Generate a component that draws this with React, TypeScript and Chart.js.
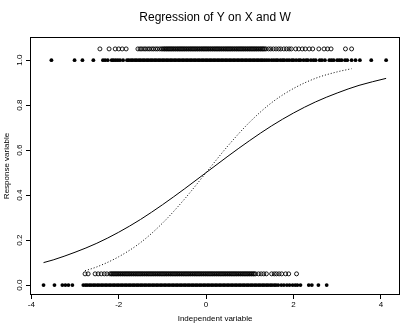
import React, { useEffect, useRef } from "react";
import { Chart, registerables } from "chart.js";

Chart.register(...registerables);

// ---- Data ----
const chartTitle = "Regression of Y on X and W";
const xAxisTitle = "Independent variable";
const yAxisTitle = "Response variable";

const xTicks = [-4, -2, 0, 2, 4];
const yTicks = [0, 0.2, 0.4, 0.6, 0.8, 1.0];

// response levels of the plotted rows
const yResponseOne = 1;
const yResponseZero = 0;
const yShiftedOne = 1.05;
const yShiftedZero = 0.05;

// X values with response 1 (filled dots)
const xSolidTop = [
  -3.54, -3.01, -2.83, -2.58, -2.36, -2.31, -2.25, -2.16, -2.12, -2.07, -2.02, -1.97, -1.9,
  -1.81, -1.77, -1.72, -1.68, -1.63, -1.59, -1.54, -1.5, -1.45, -1.41, -1.36, -1.32, -1.27, -1.23,
  -1.18, -1.14, -1.09, -1.05, -1.0, -0.96, -0.91, -0.87, -0.82, -0.78, -0.73, -0.69, -0.64, -0.6,
  -0.55, -0.51, -0.46, -0.42, -0.37, -0.33, -0.28, -0.24, -0.19, -0.15, -0.1, -0.06, -0.01, 0.03,
  0.08, 0.12, 0.17, 0.21, 0.26, 0.3, 0.35, 0.39, 0.44, 0.48, 0.53, 0.57, 0.62, 0.66, 0.71, 0.75,
  0.8, 0.84, 0.89, 0.93, 0.98, 1.02, 1.07, 1.11, 1.16, 1.2, 1.25, 1.29, 1.34, 1.39, 1.44,
  1.5, 1.55, 1.6, 1.64, 1.7, 1.75, 1.79, 1.85, 1.9, 1.96, 2.0, 2.06, 2.12, 2.16, 2.23, 2.29, 2.33,
  2.4, 2.46, 2.51, 2.6, 2.65, 2.72, 2.82, 2.87, 2.92, 3.0, 3.05, 3.1, 3.18, 3.23, 3.33, 3.42, 3.52,
  3.78, 4.12,
];

// X values with response 0 (filled dots)
const xSolidBottom = [
  -3.72, -3.47, -3.29, -3.22, -3.15, -3.06,
  -2.81, -2.76, -2.72, -2.67, -2.63, -2.58, -2.54, -2.49, -2.45, -2.4, -2.36, -2.31, -2.27, -2.22,
  -2.18, -2.13, -2.09, -2.04, -2.0, -1.95, -1.91, -1.86, -1.82, -1.77, -1.73, -1.68, -1.64, -1.59,
  -1.55, -1.5, -1.46, -1.41, -1.37, -1.32, -1.28, -1.23, -1.19, -1.14, -1.1, -1.05, -1.01, -0.96,
  -0.92, -0.87, -0.83, -0.78, -0.74, -0.69, -0.65, -0.6, -0.56, -0.51, -0.47, -0.42, -0.38, -0.33,
  -0.29, -0.24, -0.2, -0.15, -0.11, -0.06, -0.02, 0.03, 0.07, 0.12, 0.16, 0.21, 0.25, 0.3, 0.34,
  0.39, 0.43, 0.48, 0.52, 0.57, 0.61, 0.66, 0.7, 0.75, 0.79, 0.84, 0.88, 0.93, 0.97, 1.02, 1.06,
  1.11, 1.15, 1.2, 1.24, 1.29, 1.33, 1.38, 1.42, 1.47, 1.51, 1.56, 1.6, 1.65,
  1.72, 1.78, 1.85, 1.91, 1.98, 2.04, 2.09, 2.16, 2.35, 2.42, 2.57, 2.76,
];

// W values with response 1 (open circles)
const xOpenTop = [
  -2.43, -2.22, -2.08, -2.0, -1.92, -1.83,
  -1.56, -1.51, -1.47, -1.42, -1.38, -1.33, -1.29, -1.24, -1.2, -1.15, -1.11, -1.06, -1.02,
  -0.99, -0.96, -0.94, -0.91, -0.89, -0.86, -0.84, -0.81, -0.79, -0.76, -0.74, -0.71, -0.69, -0.66,
  -0.64, -0.61, -0.59, -0.56, -0.54, -0.51, -0.49, -0.46, -0.44, -0.41, -0.39, -0.36, -0.34, -0.31,
  -0.29, -0.26, -0.24, -0.21, -0.19, -0.16, -0.14, -0.11, -0.09, -0.06, -0.04, -0.01, 0.01, 0.04,
  0.06, 0.09, 0.11, 0.14, 0.16, 0.19, 0.21, 0.24, 0.26, 0.29, 0.31, 0.34, 0.36, 0.39, 0.41, 0.44,
  0.46, 0.49, 0.51, 0.54, 0.56, 0.59, 0.61, 0.64, 0.66, 0.69, 0.71, 0.74, 0.76, 0.79, 0.81, 0.84,
  0.86, 0.89, 0.91, 0.94, 0.96, 0.99, 1.01, 1.04, 1.06, 1.09, 1.11, 1.14, 1.16, 1.19, 1.21, 1.24,
  1.26, 1.29, 1.31, 1.34, 1.37,
  1.43, 1.48, 1.54, 1.6, 1.66, 1.71, 1.78, 1.84, 1.9, 1.95,
  2.05, 2.12, 2.2, 2.27, 2.36, 2.44, 2.58, 2.7, 2.78, 2.86, 3.19, 3.33,
];

// W values with response 0 (open circles)
const xOpenBottom = [
  -2.77, -2.7, -2.54, -2.47, -2.4, -2.33, -2.27,
  -2.2, -2.17, -2.15, -2.12, -2.1, -2.07, -2.05, -2.02, -2.0, -1.97, -1.95, -1.92, -1.9, -1.87,
  -1.85, -1.82, -1.8, -1.77, -1.75, -1.72, -1.7, -1.67, -1.65, -1.62, -1.6, -1.57, -1.55, -1.52,
  -1.5, -1.47, -1.45, -1.42, -1.4, -1.37, -1.35, -1.32, -1.3, -1.27, -1.25, -1.22, -1.2, -1.17,
  -1.15, -1.12, -1.1, -1.07, -1.05, -1.02, -1.0, -0.97, -0.95, -0.92, -0.9, -0.87, -0.85, -0.82,
  -0.8, -0.77, -0.75, -0.72, -0.7, -0.67, -0.65, -0.62, -0.6, -0.57, -0.55, -0.52, -0.5, -0.47,
  -0.45, -0.42, -0.4, -0.37, -0.35, -0.32, -0.3, -0.27, -0.25, -0.22, -0.2, -0.17, -0.15, -0.12,
  -0.1, -0.07, -0.05, -0.02, 0.0, 0.03, 0.05, 0.08, 0.1, 0.13, 0.15, 0.18, 0.2, 0.23, 0.25, 0.28,
  0.3, 0.33, 0.35, 0.38, 0.4, 0.43, 0.45, 0.48, 0.5, 0.53, 0.55, 0.58, 0.6, 0.63, 0.65, 0.68, 0.7,
  0.73, 0.75, 0.78, 0.8, 0.83, 0.85, 0.88, 0.9, 0.93, 0.95, 0.98, 1.0, 1.03, 1.05, 1.08, 1.1, 1.13,
  1.2, 1.26, 1.32, 1.38, 1.5, 1.56, 1.61, 1.67, 1.73, 1.82, 1.89, 2.07,
];

// fitted curve on X (solid)
const fitXx = [-3.72, -3.5, -3, -2.5, -2, -1.5, -1, -0.5, 0, 0.5, 1, 1.5, 2, 2.5, 3, 3.5, 4.12];
const fitXy = [0.1, 0.112, 0.146, 0.186, 0.235, 0.292, 0.357, 0.427, 0.5, 0.573, 0.643, 0.708, 0.765, 0.814, 0.854, 0.888, 0.919];

// fitted curve on W (dotted)
const fitWx = [-2.77, -2.5, -2, -1.5, -1, -0.5, 0, 0.5, 1, 1.5, 2, 2.5, 3, 3.33];
const fitWy = [0.064, 0.081, 0.126, 0.189, 0.275, 0.381, 0.5, 0.619, 0.725, 0.811, 0.874, 0.919, 0.948, 0.962];

const FONT = "'Liberation Sans', Arial, Helvetica, sans-serif";

const boxPlugin = {
  id: "rbox",
  afterDraw(chart: any) {
    const { ctx, chartArea } = chart;
    ctx.save();
    ctx.strokeStyle = "#000";
    ctx.lineWidth = 1;
    const l = Math.round(chartArea.left) + 0.5;
    const t = Math.round(chartArea.top) + 0.5;
    const r = Math.round(chartArea.right) - 0.5;
    const b = Math.round(chartArea.bottom) - 0.5;
    ctx.strokeRect(l, t, r - l, b - t);
    ctx.fillStyle = "#000";
    ctx.font = `12px ${FONT}`;
    ctx.textAlign = "center";
    ctx.textBaseline = "middle";
    ctx.fillText(chartTitle, (chartArea.left + chartArea.right) / 2, 18);
    ctx.restore();
  },
};

export default function App() {
  const ref = useRef<HTMLCanvasElement | null>(null);
  useEffect(() => {
    document.body.style.margin = "0";
    const toPts = (xs: number[], y: number) => xs.map((x) => ({ x, y }));
    const toCurve = (xs: number[], ys: number[]) => xs.map((x, i) => ({ x, y: ys[i] }));
    const chart = new Chart(ref.current as HTMLCanvasElement, {
      type: "scatter",
      data: {
        datasets: [
          {
            type: "line",
            data: toCurve(fitXx, fitXy),
            borderColor: "#000",
            borderWidth: 1,
            pointRadius: 0,
            fill: false,
            cubicInterpolationMode: "monotone",
          } as any,
          {
            type: "line",
            data: toCurve(fitWx, fitWy),
            borderColor: "#000",
            borderWidth: 1,
            borderDash: [1, 2],
            pointRadius: 0,
            fill: false,
            cubicInterpolationMode: "monotone",
          } as any,
          {
            data: toPts(xSolidTop, yResponseOne),
            pointRadius: 1.9,
            pointBackgroundColor: "#000",
            pointBorderWidth: 0,
            showLine: false,
          },
          {
            data: toPts(xSolidBottom, yResponseZero),
            pointRadius: 1.9,
            pointBackgroundColor: "#000",
            pointBorderWidth: 0,
            showLine: false,
          },
          {
            data: toPts(xOpenTop, yShiftedOne),
            pointRadius: 2.0,
            pointBackgroundColor: "rgba(0,0,0,0)",
            pointBorderColor: "#000",
            pointBorderWidth: 0.9,
            showLine: false,
          },
          {
            data: toPts(xOpenBottom, yShiftedZero),
            pointRadius: 2.0,
            pointBackgroundColor: "rgba(0,0,0,0)",
            pointBorderColor: "#000",
            pointBorderWidth: 0.9,
            showLine: false,
          },
        ],
      },
      options: {
        animation: false,
        responsive: false,
        events: [],
        layout: { padding: { top: 37, right: 2, left: 0, bottom: 0 } },
        plugins: {
          legend: { display: false },
          tooltip: { enabled: false },
          title: { display: false },
        },
        scales: {
          x: {
            type: "linear",
            min: -4.03,
            max: 4.44,
            afterBuildTicks: (s: any) => {
              s.ticks = xTicks.map((v) => ({ value: v }));
            },
            afterFit: (s: any) => {
              s.height = 31;
              s.paddingLeft = 0;
              s.paddingRight = 0;
            },
            grid: { display: true, drawOnChartArea: false, drawTicks: true, tickLength: 4, color: "#000" },
            border: { display: false },
            ticks: {
              font: { family: FONT, size: 8 },
              color: "#000",
              padding: 1,
              minRotation: 0,
              maxRotation: 0,
              callback: (v: any) => String(v),
            },
            title: {
              display: true,
              text: xAxisTitle,
              font: { family: FONT, size: 8 },
              color: "#000",
              padding: 2,
            },
          },
          y: {
            type: "linear",
            min: -0.044,
            max: 1.103,
            afterBuildTicks: (s: any) => {
              s.ticks = yTicks.map((v) => ({ value: v }));
            },
            afterFit: (s: any) => {
              s.width = 30;
              s.paddingTop = 0;
              s.paddingBottom = 0;
            },
            grid: { display: true, drawOnChartArea: false, drawTicks: true, tickLength: 4, color: "#000" },
            border: { display: false },
            ticks: {
              font: { family: FONT, size: 8 },
              color: "#000",
              padding: 1,
              minRotation: 90,
              maxRotation: 90,
              crossAlign: "center",
              callback: (v: any) => Number(v).toFixed(1),
            },
            title: {
              display: true,
              text: yAxisTitle,
              font: { family: FONT, size: 8 },
              color: "#000",
              padding: 2,
            },
          },
        },
      },
      plugins: [boxPlugin],
    } as any);
    return () => chart.destroy();
  }, []);
  return (
    <div style={{ width: 405, height: 326 }}>
      <canvas ref={ref} width={405} height={326} style={{ display: "block", width: 405, height: 326 }} />
    </div>
  );
}
